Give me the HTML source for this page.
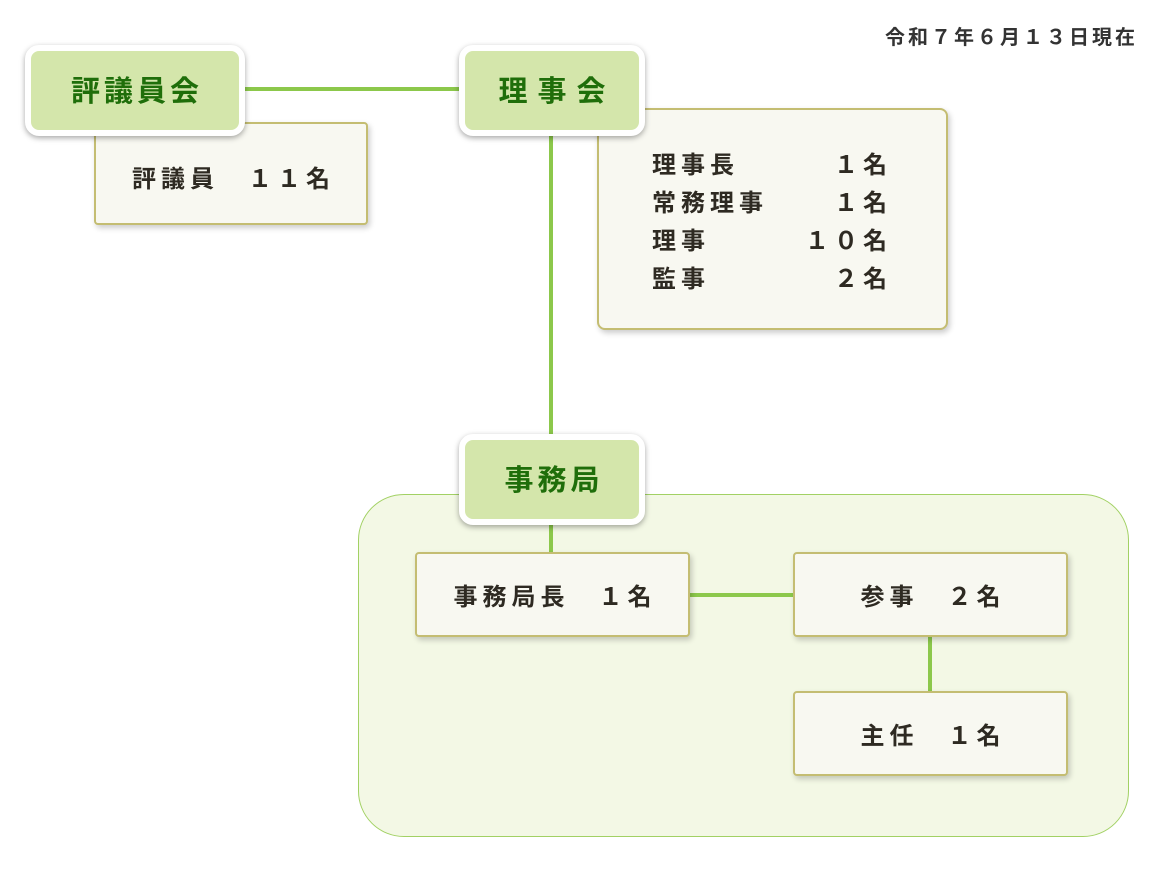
<!DOCTYPE html>
<html><head><meta charset="utf-8"><style>
body{margin:0;width:1167px;height:881px;background:#fff;position:relative;overflow:hidden;font-family:"Liberation Sans","Noto Sans CJK JP",sans-serif;font-weight:bold}
div{position:absolute;box-sizing:border-box}
.hd{background:#d4e6ab;border:6px solid #fff;border-radius:14px;box-shadow:0 2px 6px rgba(0,0,0,.35);color:#1f6e0a;font-size:29px;display:flex;align-items:center;justify-content:center;letter-spacing:4px;padding-left:4px;padding-bottom:3px}
.bx{background:#f8f8f1;border:2px solid #c4bd72;border-radius:4px;box-shadow:2px 3px 6px rgba(0,0,0,.2);color:#2e2a22;font-size:24px;display:flex;align-items:center;justify-content:center;letter-spacing:5px;padding-left:5px}
.ln{background:#8cc84b}
.r{position:absolute;left:53px;font-size:24px;color:#2e2a22;letter-spacing:5px;line-height:26px}
.c{position:absolute;right:54px;font-size:24px;color:#2e2a22;letter-spacing:5px;line-height:26px}
</style></head><body>
<div style="left:885px;top:21px;font-size:20px;color:#333;letter-spacing:3px;white-space:nowrap">令和７年６月１３日現在</div>
<div style="left:358px;top:494px;width:771px;height:343px;background:#f3f8e5;border:1px solid #a2d164;border-radius:46px"></div>
<div class="ln" style="left:240px;top:87px;width:222px;height:4px"></div>
<div class="ln" style="left:549px;top:130px;width:4px;height:310px"></div>
<div class="ln" style="left:549px;top:520px;width:4px;height:34px"></div>
<div class="ln" style="left:688px;top:593px;width:108px;height:4px"></div>
<div class="ln" style="left:928px;top:635px;width:4px;height:58px"></div>
<div class="bx" style="left:94px;top:122px;width:274px;height:103px;padding-top:6px">評議員　１１名</div>
<div class="hd" style="left:25px;top:45px;width:220px;height:91px">評議員会</div>
<div class="bx" style="left:597px;top:108px;width:351px;height:222px;border-radius:8px;display:block">
<span class="r" style="top:43px">理事長</span><span class="c" style="top:43px">１名</span>
<span class="r" style="top:81px">常務理事</span><span class="c" style="top:81px">１名</span>
<span class="r" style="top:119px">理事</span><span class="c" style="top:119px">１０名</span>
<span class="r" style="top:157px">監事</span><span class="c" style="top:157px">２名</span>
</div>
<div class="hd" style="left:459px;top:45px;width:186px;height:91px;letter-spacing:10px;padding-left:10px">理事会</div>
<div class="hd" style="left:459px;top:434px;width:186px;height:91px">事務局</div>
<div class="bx" style="left:415px;top:552px;width:275px;height:85px">事務局長　１名</div>
<div class="bx" style="left:793px;top:552px;width:275px;height:85px">参事　２名</div>
<div class="bx" style="left:793px;top:691px;width:275px;height:85px">主任　１名</div>
</body></html>
